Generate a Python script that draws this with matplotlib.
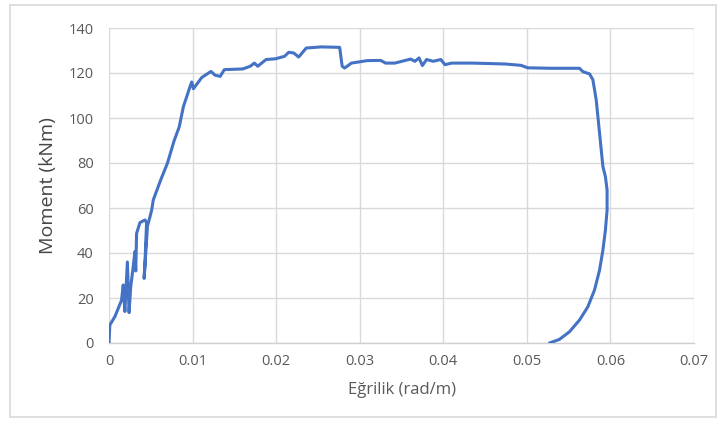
import matplotlib
matplotlib.use("Agg")
import matplotlib.pyplot as plt
from matplotlib.patches import Rectangle

# Moment-curvature response (curvature in rad/m, moment in kNm)
curvature = [
    0.0, 0.0001, 0.0007, 0.0015, 0.0017, 0.0019, 0.0022, 0.0024, 0.0026, 0.0029,
    0.0031, 0.0032, 0.0033, 0.0037, 0.0043, 0.0045, 0.0044, 0.0043, 0.0042, 0.0044,
    0.0046, 0.0049, 0.0051, 0.0053, 0.0062, 0.0070, 0.0078, 0.0084, 0.0089, 0.0097,
    0.0099, 0.0101, 0.0111, 0.0122, 0.0127, 0.0133, 0.0138, 0.0160, 0.0169, 0.0174,
    0.0178, 0.0188, 0.0199, 0.0210, 0.0215, 0.0221, 0.0227, 0.0236, 0.0254, 0.0276,
    0.0279, 0.0282, 0.0290, 0.0309, 0.0325, 0.0331, 0.0342, 0.0361, 0.0366, 0.0371,
    0.0375, 0.0380, 0.0388, 0.0397, 0.0402, 0.0410, 0.0435, 0.0474, 0.0493, 0.0501,
    0.0529, 0.0563, 0.0567, 0.0575, 0.0579, 0.0583, 0.0587, 0.0591, 0.0594, 0.0596,
    0.0596, 0.0594, 0.0591, 0.0587, 0.0581, 0.0573, 0.0563, 0.0551, 0.0539, 0.0527,
]
moment = [
    0.0, 8.0, 11.7, 19.0, 25.8, 14.0, 36.0, 13.5, 25.0, 34.0,
    40.6, 32.0, 48.7, 53.5, 54.7, 53.5, 45.0, 35.0, 28.7, 40.0,
    52.0, 56.0, 59.0, 63.6, 72.6, 80.0, 90.0, 96.0, 105.0, 114.0,
    116.0, 113.0, 118.0, 120.7, 119.0, 118.5, 121.5, 121.8, 123.0, 124.4,
    123.0, 126.0, 126.3, 127.4, 129.2, 128.9, 127.1, 131.1, 131.6, 131.4,
    123.0, 122.2, 124.4, 125.5, 125.6, 124.4, 124.4, 126.2, 125.2, 126.7,
    123.3, 126.0, 125.2, 126.0, 123.7, 124.4, 124.4, 124.0, 123.4, 122.3,
    122.1, 122.1, 120.6, 119.6, 117.0, 108.0, 93.2, 78.4, 73.9, 68.0,
    59.0, 50.2, 41.3, 32.4, 23.6, 16.1, 10.2, 5.0, 1.6, 0.0,
]

x_ticks = [0, 0.01, 0.02, 0.03, 0.04, 0.05, 0.06, 0.07]
x_tick_labels = ["0", "0.01", "0.02", "0.03", "0.04", "0.05", "0.06", "0.07"]
y_ticks = [0, 20, 40, 60, 80, 100, 120, 140]

plt.rcParams["font.family"] = ["Open Sans", "DejaVu Sans"]

fig = plt.figure(figsize=(7.21, 4.26), dpi=100)
ax = fig.add_axes([109 / 721, 1 - 343 / 426, 585 / 721, 315 / 426])

# chart-area border
fig.patches.append(Rectangle((10 / 721, 1 - 417 / 426), 706 / 721, 412 / 426,
                             transform=fig.transFigure, fill=False,
                             edgecolor="#d9d9d9", linewidth=1.2))

ax.plot(curvature, moment, color="#4472c4", linewidth=2.2,
        solid_joinstyle="round", solid_capstyle="round", zorder=3)

ax.set_xlim(0, 0.07)
ax.set_ylim(0, 140)
ax.set_xticks(x_ticks)
ax.set_xticklabels(x_tick_labels)
ax.set_yticks(y_ticks)

ax.grid(True, color="#d9d9d9", linewidth=1.0, zorder=0)
ax.set_axisbelow(True)
for side in ["top", "right", "left"]:
    ax.spines[side].set_visible(False)
ax.spines["bottom"].set_color("#d0d0d0")
ax.spines["bottom"].set_linewidth(1.0)

ax.tick_params(axis="both", length=0, labelsize=10.5, labelcolor="#595959")
ax.tick_params(axis="x", pad=8)
ax.tick_params(axis="y", pad=11)

ax.set_xlabel("Eğrilik (rad/m)", fontsize=12, color="#595959", labelpad=9)
ax.set_ylabel("Moment (kNm)", fontsize=14, color="#454545", labelpad=8)

fig.savefig("out.png", dpi=100)
